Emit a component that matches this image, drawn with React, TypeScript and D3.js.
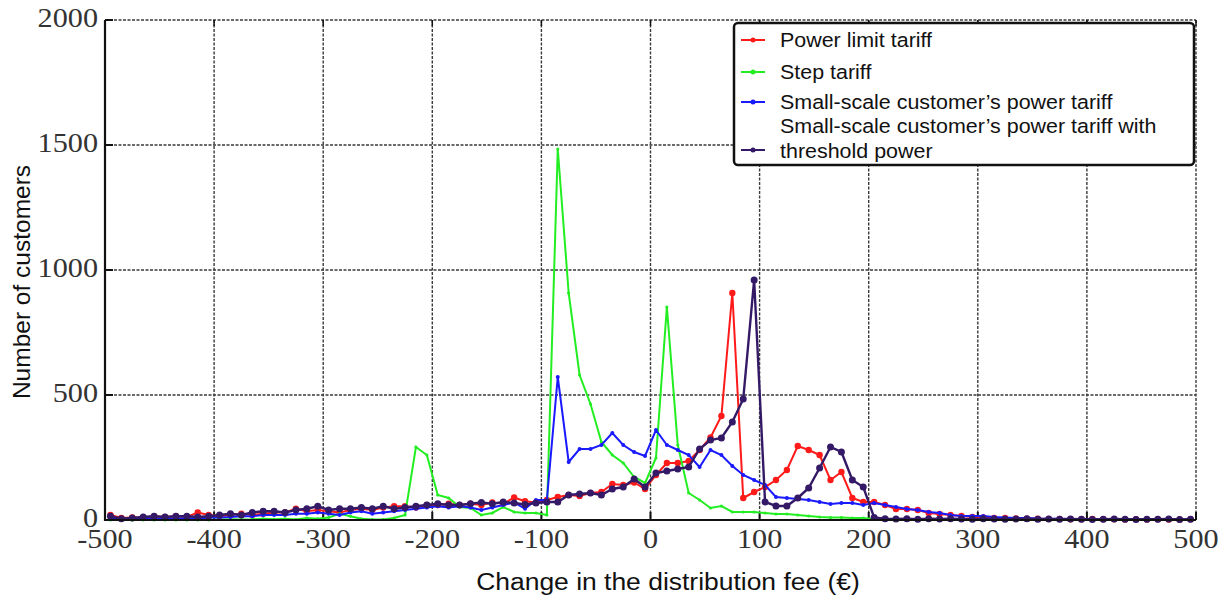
import React from "react";
import * as d3 from "d3";

const binCenters = [
  -495, -485, -475, -465, -455, -445, -435, -425, -415, -405,
  -395, -385, -375, -365, -355, -345, -335, -325, -315, -305,
  -295, -285, -275, -265, -255, -245, -235, -225, -215, -205,
  -195, -185, -175, -165, -155, -145, -135, -125, -115, -105,
  -95, -85, -75, -65, -55, -45, -35, -25, -15, -5,
  5, 15, 25, 35, 45, 55, 65, 75, 85, 95,
  105, 115, 125, 135, 145, 155, 165, 175, 185, 195,
  205, 215, 225, 235, 245, 255, 265, 275, 285, 295,
  305, 315, 325, 335, 345, 355, 365, 375, 385, 395,
  405, 415, 425, 435, 445, 455, 465, 475, 485, 495,
];

const powerLimit = [
  20, 8, 10, 10, 15, 12, 15, 12, 30, 20,
  15, 20, 25, 20, 25, 30, 30, 45, 35, 40,
  35, 30, 40, 45, 40, 50, 55, 55, 50, 60,
  60, 65, 60, 65, 60, 70, 65, 90, 75, 70,
  80, 92, 100, 96, 108, 112, 144, 140, 150, 124,
  180, 228, 228, 236, 280, 330, 416, 908, 88, 112,
  132, 160, 200, 296, 280, 260, 160, 192, 88, 72,
  72, 60, 44, 44, 40, 28, 24, 20, 16, 12,
  10, 8, 8, 6, 5, 5, 4, 4, 3, 3,
  4, 3, 3, 2, 3, 2, 3, 2, 2, 3,
];

const stepTariff = [
  0, 0, 0, 0, 0, 0, 0, 0, 0, 0,
  2, 3, 2, 3, 5, 3, 5, 2, 8, 5,
  10, 25, 15, 5, 2, 2, 8, 20, 292, 260,
  100, 88, 52, 48, 20, 28, 52, 32, 28, 28,
  20, 1484, 908, 580, 464, 312, 260, 228, 172, 148,
  248, 852, 300, 108, 80, 48, 56, 32, 32, 32,
  28, 24, 24, 20, 16, 12, 10, 10, 8, 8,
  4, 3, 2, 2, 2, 2, 2, 1, 1, 1,
  1, 1, 1, 1, 1, 1, 1, 1, 1, 1,
  1, 1, 1, 1, 1, 1, 1, 1, 1, 1,
];

const smallScale = [
  5, 3, 5, 8, 5, 5, 5, 8, 5, 10,
  10, 12, 15, 15, 20, 20, 20, 25, 25, 30,
  25, 20, 30, 35, 25, 30, 35, 40, 45, 50,
  55, 50, 55, 50, 40, 50, 60, 70, 45, 80,
  80, 572, 232, 284, 284, 300, 348, 300, 272, 256,
  360, 300, 280, 260, 212, 280, 260, 216, 180, 160,
  140, 92, 88, 84, 80, 72, 64, 68, 68, 60,
  68, 60, 52, 44, 40, 32, 28, 20, 16, 16,
  16, 12, 10, 8, 8, 6, 5, 5, 4, 4,
  3, 3, 3, 2, 2, 2, 2, 2, 2, 2,
];

const smallScaleThreshold = [
  15, 5, 8, 12, 15, 12, 15, 15, 12, 15,
  20, 25, 20, 30, 35, 35, 30, 40, 45, 55,
  40, 45, 45, 50, 45, 55, 45, 50, 55, 60,
  65, 60, 60, 65, 70, 65, 72, 68, 62, 68,
  72, 72, 100, 104, 108, 100, 124, 132, 164, 132,
  188, 196, 204, 212, 284, 320, 328, 392, 484, 960,
  72, 56, 56, 88, 128, 208, 292, 272, 160, 132,
  10, 5, 4, 5, 3, 5, 4, 5, 4, 3,
  5, 4, 3, 4, 5, 3, 4, 3, 4, 3,
  2, 3, 4, 3, 2, 3, 3, 4, 2, 3,
];

const seriesNames = [
  "Power limit tariff",
  "Step tariff",
  "Small-scale customer\u2019s power tariff",
  "Small-scale customer\u2019s power tariff with threshold power",
];
const seriesColors = ["#ff1a1a", "#22ee22", "#1a1aff", "#341a66"];
const seriesValues = [powerLimit, stepTariff, smallScale, smallScaleThreshold];
const markerRadius = [3.2, 1.6, 2, 3.5];

const xTicks = [-500, -400, -300, -200, -100, 0, 100, 200, 300, 400, 500];
const yTicks = [0, 500, 1000, 1500, 2000];

const xLabel = "Change in the distribution fee (\u20AC)";
const yLabel = "Number of customers";

function SText(props: {
  x: number;
  y: number;
  sx: number;
  anchor?: string;
  font: string;
  size: number;
  fill?: string;
  children: React.ReactNode;
}) {
  return (
    <text
      transform={`translate(${props.x},${props.y}) scale(${props.sx},1)`}
      textAnchor={props.anchor || "start"}
      fontFamily={props.font}
      fontSize={props.size}
      fill={props.fill || "#111"}
    >
      {props.children}
    </text>
  );
}

export default function App() {
  const x = d3.scaleLinear().domain([-500, 500]).range([105, 1196]);
  const y = d3.scaleLinear().domain([0, 2000]).range([520, 20]);
  const [x0, x1] = x.range();
  const [yb, yt] = y.range();

  const line = d3
    .line<number>()
    .x((_, i) => x(binCenters[i]))
    .y((d) => y(d));

  const serif = "'Liberation Serif', 'Times New Roman', serif";
  const sans = "'Liberation Sans', Arial, sans-serif";
  const legendRows = [40, 72, 102];
  const legendBase = [47, 79, 109];

  return (
    <svg
      width={1226}
      height={600}
      style={{ position: "absolute", left: 0, top: 0, background: "#fff" }}
    >
      <rect x={0} y={0} width={1226} height={600} fill="#fff" />
      {/* grid */}
      {xTicks
        .filter((t) => t !== -500)
        .map((t) => (
          <line
            key={"gx" + t}
            x1={x(t)}
            x2={x(t)}
            y1={yt}
            y2={yb}
            stroke="#3a3a3a"
            strokeWidth={1.4}
            strokeDasharray="3,1.5"
          />
        ))}
      {yTicks
        .filter((t) => t !== 0)
        .map((t) => (
          <line
            key={"gy" + t}
            x1={x0}
            x2={x1}
            y1={y(t)}
            y2={y(t)}
            stroke="#3a3a3a"
            strokeWidth={1.4}
            strokeDasharray="3,1.5"
          />
        ))}
      {/* ticks */}
      {xTicks.map((t) => (
        <g key={"tx" + t}>
          <line x1={x(t)} x2={x(t)} y1={yb} y2={yb - 8} stroke="#111" strokeWidth={2} />
          <line x1={x(t)} x2={x(t)} y1={yt} y2={yt + 6} stroke="#111" strokeWidth={1.5} />
        </g>
      ))}
      {yTicks.map((t) => (
        <line key={"ty" + t} x1={x0} x2={x0 + 8} y1={y(t)} y2={y(t)} stroke="#111" strokeWidth={2} />
      ))}
      {/* series */}
      {seriesValues.map((vals, si) => (
        <g key={"s" + si}>
          <path d={line(vals) || ""} fill="none" stroke={seriesColors[si]} strokeWidth={si === 3 ? 2.4 : 2} />
          {vals.map((v, i) => (
            <circle
              key={i}
              cx={x(binCenters[i])}
              cy={y(v)}
              r={markerRadius[si]}
              fill={seriesColors[si]}
            />
          ))}
        </g>
      ))}
      {/* axes */}
      <line x1={x0} x2={x0} y1={yt} y2={yb + 1} stroke="#111" strokeWidth={2.2} />
      <line x1={x0 - 1} x2={x1} y1={yb} y2={yb} stroke="#111" strokeWidth={2.2} />
      {/* tick labels */}
      {yTicks.map((t) => (
        <SText key={"ly" + t} x={x0 - 7} y={y(t) + 7} sx={1.12} anchor="end" font={serif} size={27} fill="#333">
          {t}
        </SText>
      ))}
      {xTicks.map((t) => (
        <SText key={"lx" + t} x={x(t)} y={yb + 28} sx={1.12} anchor="middle" font={serif} size={27} fill="#333">
          {t}
        </SText>
      ))}
      {/* axis titles */}
      <text
        transform={`translate(30, 282) rotate(-90)`}
        textAnchor="middle"
        fontFamily={sans}
        fontSize={24.5}
        fill="#111"
      >
        {yLabel}
      </text>
      <SText x={668} y={590} sx={1.08} anchor="middle" font={sans} size={24.5}>
        {xLabel}
      </SText>
      {/* legend */}
      <g>
        <rect x={734} y={23} width={460} height={142} rx={4} fill="#fff" stroke="#111" strokeWidth={2.5} />
        {[0, 1, 2].map((i) => (
          <g key={"lg" + i}>
            <line x1={741} x2={765} y1={legendRows[i]} y2={legendRows[i]} stroke={seriesColors[i]} strokeWidth={2} />
            <circle cx={753} cy={legendRows[i]} r={2.5} fill={seriesColors[i]} />
            <SText x={780} y={legendBase[i]} sx={1.1} font={sans} size={19.5}>
              {seriesNames[i]}
            </SText>
          </g>
        ))}
        <line x1={741} x2={765} y1={150} y2={150} stroke={seriesColors[3]} strokeWidth={2} />
        <circle cx={753} cy={150} r={2.5} fill={seriesColors[3]} />
        <SText x={780} y={133} sx={1.1} font={sans} size={19.5}>
          Small-scale customer{"\u2019"}s power tariff with
        </SText>
        <SText x={780} y={158} sx={1.1} font={sans} size={19.5}>
          threshold power
        </SText>
      </g>
    </svg>
  );
}
